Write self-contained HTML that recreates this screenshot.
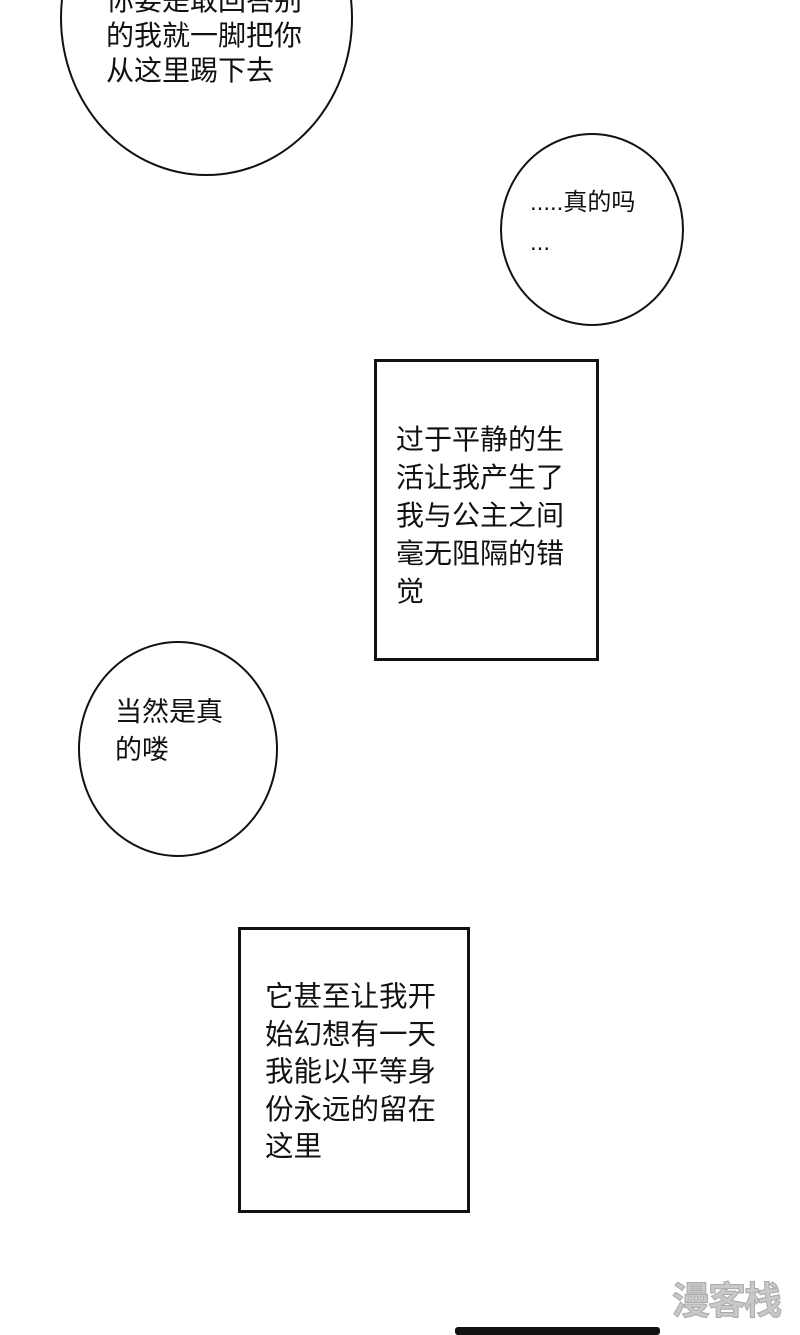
<!DOCTYPE html>
<html><head><meta charset="utf-8"><style>
html,body{margin:0;padding:0;background:#fff;}
body{width:800px;height:1332px;position:relative;overflow:hidden;font-family:"Liberation Sans","Noto Sans CJK SC",sans-serif;color:#111;}
.e{position:absolute;border:2px solid #111;border-radius:50%;box-sizing:border-box;}
.r{position:absolute;border:3px solid #111;box-sizing:border-box;}
.t{position:absolute;white-space:nowrap;}
</style></head><body>
<div class="e" style="left:60px;top:-140px;width:293px;height:316px;"></div>
<div class="t" style="left:106px;top:-17px;font-size:28px;line-height:35px;">你要是敢回答别<br>的我就一脚把你<br>从这里踢下去</div>

<div class="e" style="left:500px;top:133px;width:184px;height:193px;"></div>
<div class="t" style="left:530px;top:183px;font-size:24px;line-height:40px;">.....真的吗<br>...</div>

<div class="r" style="left:374px;top:359px;width:225px;height:302px;"></div>
<div class="t" style="left:396px;top:421px;font-size:28px;line-height:38px;">过于平静的生<br>活让我产生了<br>我与公主之间<br>毫无阻隔的错<br>觉</div>

<div class="e" style="left:78px;top:641px;width:200px;height:216px;"></div>
<div class="t" style="left:115px;top:693px;font-size:27px;line-height:38px;">当然是真<br>的喽</div>

<div class="r" style="left:238px;top:927px;width:232px;height:286px;"></div>
<div class="t" style="left:265px;top:979px;font-size:28.5px;line-height:37.5px;">它甚至让我开<br>始幻想有一天<br>我能以平等身<br>份永远的留在<br>这里</div>

<div class="t" style="left:672px;top:1270px;font-size:38px;font-weight:bold;color:#c8c8c8;letter-spacing:-2px;-webkit-text-stroke:1px #aaa;">漫客栈</div>
<div style="position:absolute;left:455px;top:1327px;width:205px;height:8px;background:#111;border-radius:3px;"></div>
</body></html>
